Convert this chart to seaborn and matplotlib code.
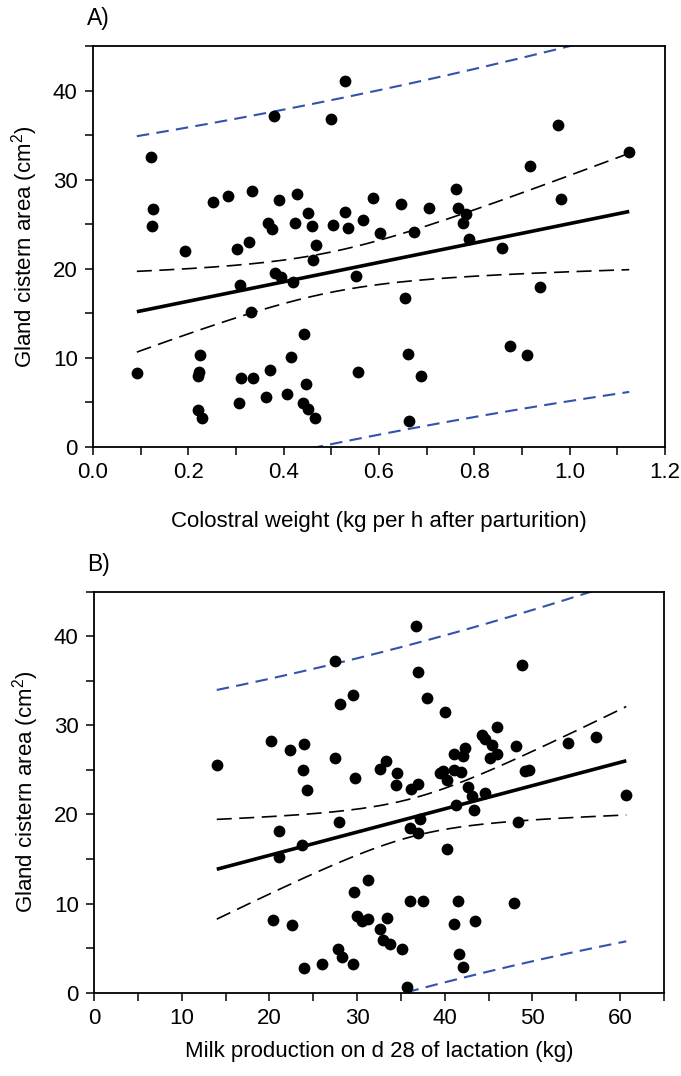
import numpy as np
import pandas as pd
import matplotlib
matplotlib.use("Agg")
import matplotlib.pyplot as plt
import seaborn as sns

# ---------------- data ----------------
# Panel A: colostral weight (kg per h after parturition) vs gland cistern area (cm2)
colostral_weight = [
    0.121, 0.126, 0.123, 0.380, 0.529, 0.500, 0.251, 0.284, 0.333, 0.391,
    0.427, 0.450, 0.529, 0.587, 0.367, 0.375, 0.424, 0.459, 0.504, 0.536,
    0.567, 0.603, 0.328, 0.976, 1.125, 0.917, 0.646, 0.705, 0.762, 0.765,
    0.783, 0.777, 0.981, 0.674, 0.789, 0.194, 0.303, 0.467, 0.461, 0.382,
    0.395, 0.419, 0.308, 0.552, 0.331, 0.443, 0.224, 0.092, 0.222, 0.220,
    0.310, 0.335, 0.371, 0.415, 0.447, 0.406, 0.363, 0.306, 0.441, 0.450,
    0.466, 0.221, 0.229, 0.555, 0.859, 0.654, 0.937, 0.660, 0.874, 0.911,
    0.688, 0.662,
]
cistern_area_a = [
    32.5, 26.7, 24.8, 37.2, 41.1, 36.8, 27.5, 28.2, 28.7, 27.7,
    28.4, 26.3, 26.4, 27.9, 25.1, 24.5, 25.1, 24.8, 24.9, 24.6,
    25.5, 24.0, 23.0, 36.1, 33.1, 31.5, 27.3, 26.8, 28.9, 26.8,
    26.1, 25.1, 27.8, 24.1, 23.3, 22.0, 22.2, 22.7, 21.0, 19.5,
    19.1, 18.5, 18.2, 19.2, 15.2, 12.7, 10.3, 8.3, 8.4, 8.0,
    7.7, 7.7, 8.6, 10.1, 7.1, 5.9, 5.6, 4.9, 4.9, 4.3,
    3.2, 4.1, 3.2, 8.4, 22.3, 16.7, 17.9, 10.4, 11.3, 10.3,
    8.0, 2.9,
]

# Panel B: milk production on d 28 of lactation (kg) vs gland cistern area (cm2)
milk_production = [
    14.0, 27.5, 28.0, 29.5, 20.2, 22.3, 24.0, 27.5, 23.8, 29.8,
    24.3, 32.6, 36.7, 36.9, 48.8, 38.0, 40.0, 46.0, 44.3, 44.6,
    45.4, 48.1, 54.1, 57.3, 42.3, 42.1, 41.0, 46.0, 45.2, 33.3,
    34.6, 34.4, 36.1, 36.9, 39.4, 39.8, 40.3, 41.0, 41.8, 49.2,
    49.6, 42.7, 43.1, 44.6, 41.3, 43.3, 60.7, 48.3, 21.1, 21.1,
    23.7, 27.9, 31.2, 29.6, 20.4, 22.6, 30.0, 30.6, 31.3, 32.6,
    27.8, 28.3, 29.5, 26.0, 24.0, 36.0, 37.2, 36.9, 40.2, 36.0,
    37.5, 41.5, 47.9, 33.4, 33.0, 33.7, 35.1, 41.0, 43.5, 41.6,
    42.1, 35.7,
]
cistern_area_b = [
    25.5, 37.2, 32.4, 33.4, 28.2, 27.2, 27.9, 26.3, 25.0, 24.1,
    22.7, 25.1, 41.1, 36.0, 36.8, 33.0, 31.5, 29.8, 28.9, 28.4,
    27.8, 27.7, 28.0, 28.7, 27.5, 26.6, 26.8, 26.8, 26.3, 26.0,
    24.6, 23.3, 22.9, 23.4, 24.6, 24.9, 23.9, 25.0, 24.7, 24.9,
    25.0, 23.1, 22.1, 22.4, 21.0, 20.5, 22.2, 19.1, 18.1, 15.2,
    16.6, 19.1, 12.6, 11.3, 8.2, 7.6, 8.6, 8.0, 8.3, 7.1,
    4.9, 4.0, 3.2, 3.2, 2.8, 18.5, 19.5, 17.9, 16.1, 10.3,
    10.3, 10.3, 10.1, 8.4, 5.9, 5.5, 4.9, 7.7, 8.0, 4.3,
    2.9, 0.6,
]

panel_titles = ["A)", "B)"]
x_labels = ["Colostral weight (kg per h after parturition)",
            "Milk production on d 28 of lactation (kg)"]
y_label = "Gland cistern area (cm$^2$)"
x_ticks_a = [0.0, 0.2, 0.4, 0.6, 0.8, 1.0, 1.2]
x_ticks_b = [0, 10, 20, 30, 40, 50, 60]
y_ticks = [0, 10, 20, 30, 40]

# ---------------- style ----------------
sns.set_style("ticks")
plt.rcParams["font.family"] = ["Liberation Sans", "DejaVu Sans"]
plt.rcParams["mathtext.default"] = "regular"
plt.rcParams["text.color"] = "black"
plt.rcParams["axes.labelcolor"] = "black"
plt.rcParams["xtick.color"] = "black"
plt.rcParams["ytick.color"] = "black"
plt.rcParams["axes.edgecolor"] = "black"

FS = 16
BLUE = "#3352ac"


def reg_bands(x, y, grid):
    x = np.asarray(x, float)
    y = np.asarray(y, float)
    n = len(x)
    b1, b0 = np.polyfit(x, y, 1)
    resid = y - (b0 + b1 * x)
    s = np.sqrt(np.sum(resid ** 2) / (n - 2))
    xbar = x.mean()
    sxx = np.sum((x - xbar) ** 2)
    t = 1.994 if n < 78 else 1.990
    fit = b0 + b1 * grid
    se_m = s * np.sqrt(1.0 / n + (grid - xbar) ** 2 / sxx)
    se_p = s * np.sqrt(1.0 + 1.0 / n + (grid - xbar) ** 2 / sxx)
    return fit, fit - t * se_m, fit + t * se_m, fit - t * se_p, fit + t * se_p


W, H = 681, 1076
fig = plt.figure(figsize=(W / 100, H / 100), dpi=100)

axes_px = [(93, 46, 665, 447), (94, 591.5, 664, 992.7)]
xlabel_pads = [20, 9]
panels = [
    (colostral_weight, cistern_area_a, (0, 1.2), x_ticks_a, 0.1, "{:.1f}"),
    (milk_production, cistern_area_b, (0, 65), x_ticks_b, 5, "{:d}"),
]

for i, ((xv, yv, xlim, xt, xminor, fmt), (l, t_, r, b)) in enumerate(zip(panels, axes_px)):
    ax = fig.add_axes([l / W, 1 - b / H, (r - l) / W, (b - t_) / H])
    df = pd.DataFrame({"x": xv, "y": yv})

    grid = np.linspace(min(xv), max(xv), 200)
    fit, cl, cu, pl, pu = reg_bands(xv, yv, grid)
    ax.plot(grid, pu, color=BLUE, lw=1.5, dashes=(6, 3.5), zorder=2)
    ax.plot(grid, pl, color=BLUE, lw=1.5, dashes=(6, 3.5), zorder=2)
    ax.plot(grid, cu, color="black", lw=1.2, dashes=(9, 4.5), zorder=2)
    ax.plot(grid, cl, color="black", lw=1.2, dashes=(9, 4.5), zorder=2)
    ax.plot(grid, fit, color="black", lw=2.6, solid_capstyle="butt", zorder=2)

    sns.scatterplot(data=df, x="x", y="y", ax=ax, s=72, color="black",
                    edgecolor="black", linewidth=0, zorder=3, legend=False)

    ax.set_xlim(*xlim)
    ax.set_ylim(0, 45)
    ax.set_xticks(xt)
    ax.set_xticklabels([fmt.format(v) for v in xt])
    ax.set_xticks(np.arange(xlim[0], xlim[1] + 1e-9, xminor), minor=True)
    ax.set_yticks(y_ticks)
    ax.set_yticks(np.arange(0, 46, 5), minor=True)
    ax.tick_params(which="both", direction="out", length=6, width=1.1,
                   labelsize=FS, pad=5, color="black", labelcolor="black")
    for sp in ax.spines.values():
        sp.set_visible(True)
        sp.set_linewidth(1.3)
        sp.set_color("black")
    ax.set_xlabel(x_labels[i], fontsize=FS, labelpad=xlabel_pads[i], color="black")
    ax.set_ylabel(y_label, fontsize=FS, labelpad=9, color="black")
    ax.set_facecolor("white")

    fig.text(87 / W, 1 - (t_ - 21) / H, panel_titles[i], fontsize=FS + 0.5,
             ha="left", va="baseline", color="black")

fig.savefig("out.png", dpi=100, facecolor="white")
